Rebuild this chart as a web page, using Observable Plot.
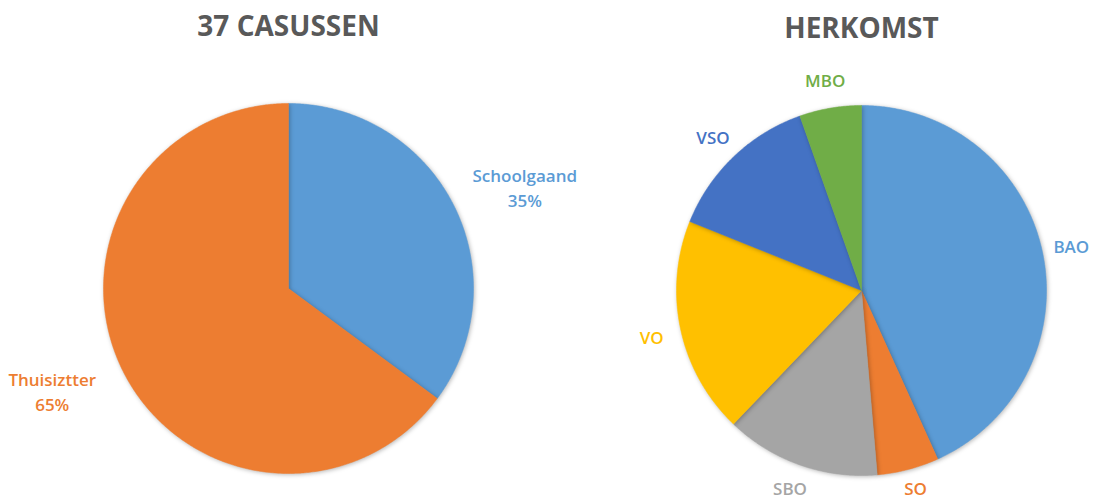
<!DOCTYPE html>
<html>
<head>
<meta charset="utf-8">
<script src="https://cdn.jsdelivr.net/npm/d3@7"></script>
<script src="https://cdn.jsdelivr.net/npm/@observablehq/plot@0.6"></script>
<style>
  html, body { margin: 0; padding: 0; background: #fff; }
  #chart svg { display: block; }
  #chart svg g.pie { filter: drop-shadow(1px 1px 2px rgba(0,0,0,0.28)); }
</style>
</head>
<body>
<div id="chart"></div>
<script>
// ---- Data ----
const casusTitle = "37 CASUSSEN";
const casusCategories = ["Schoolgaand", "Thuisiztter"];
const casusValues = [13, 24];
const casusColors = ["#5B9BD5", "#ED7D31"];

const herkomstTitle = "HERKOMST";
const herkomstCategories = ["BAO", "SO", "SBO", "VO", "VSO", "MBO"];
const herkomstValues = [16, 2, 5, 7, 5, 2];
const herkomstColors = ["#5B9BD5", "#ED7D31", "#A5A5A5", "#FFC000", "#4472C4", "#70AD47"];

// ---- Layout ----
const W = 1098, H = 502;
const pies = [
  {title: casusTitle, cats: casusCategories, vals: casusValues, colors: casusColors,
   cx: 288, cy: 288, r: 185, titleY: 27, labelR: 1.39, labelRot: 3.5, showPct: true},
  {title: herkomstTitle, cats: herkomstCategories, vals: herkomstValues, colors: herkomstColors,
   cx: 861, cy: 290, r: 185, titleY: 29, labelR: 1.16, labelRot: 0, showPct: false}
];
const labelMaxY = 486;

const marks = [];
for (const p of pies) {
  const total = d3.sum(p.vals);
  const arcs = d3.pie().sort(null).startAngle(0).endAngle(2 * Math.PI)(p.vals);
  arcs.forEach((a, i) => {
    const pts = [{x: p.cx, y: p.cy}];
    const n = Math.max(2, Math.ceil((a.endAngle - a.startAngle) / (Math.PI / 360)));
    for (let k = 0; k <= n; k++) {
      const t = a.startAngle + (a.endAngle - a.startAngle) * k / n;
      pts.push({x: p.cx + p.r * Math.sin(t), y: p.cy - p.r * Math.cos(t)});
    }
    pts.push({x: p.cx, y: p.cy});
    marks.push(Plot.line(pts, {x: "x", y: "y", fill: p.colors[i], stroke: p.colors[i], strokeWidth: 0.5, className: "pie"}));
  });
  const labels = arcs.map((a, i) => {
    const m = (a.startAngle + a.endAngle) / 2 + p.labelRot * Math.PI / 180;
    const pct = Math.round(100 * p.vals[i] / total) + "%";
    return {
      x: p.cx + p.r * p.labelR * Math.sin(m),
      y: Math.min(labelMaxY, p.cy - p.r * p.labelR * Math.cos(m)),
      text: p.showPct ? p.cats[i] + "\n" + pct : p.cats[i],
      color: p.colors[i]
    };
  });
  marks.push(Plot.text(labels, {x: "x", y: "y", text: "text", fill: "color",
    fontSize: 17, fontWeight: 600, lineHeight: 1.47, textAnchor: "middle", lineAnchor: "middle"}));
  marks.push(Plot.text([p.title], {x: [p.cx], y: [p.titleY], text: d => d,
    fill: "#595959", fontSize: 28, fontWeight: 700, textAnchor: "middle", lineAnchor: "middle"}));
}

const chart = Plot.plot({
  width: W, height: H,
  margin: 0,
  style: {fontFamily: "'Open Sans', sans-serif", background: "#fff"},
  x: {domain: [0, W], range: [0, W], axis: null},
  y: {domain: [0, H], range: [0, H], axis: null},
  color: {type: "identity"},
  marks
});
document.getElementById("chart").appendChild(chart);
</script>
</body>
</html>
